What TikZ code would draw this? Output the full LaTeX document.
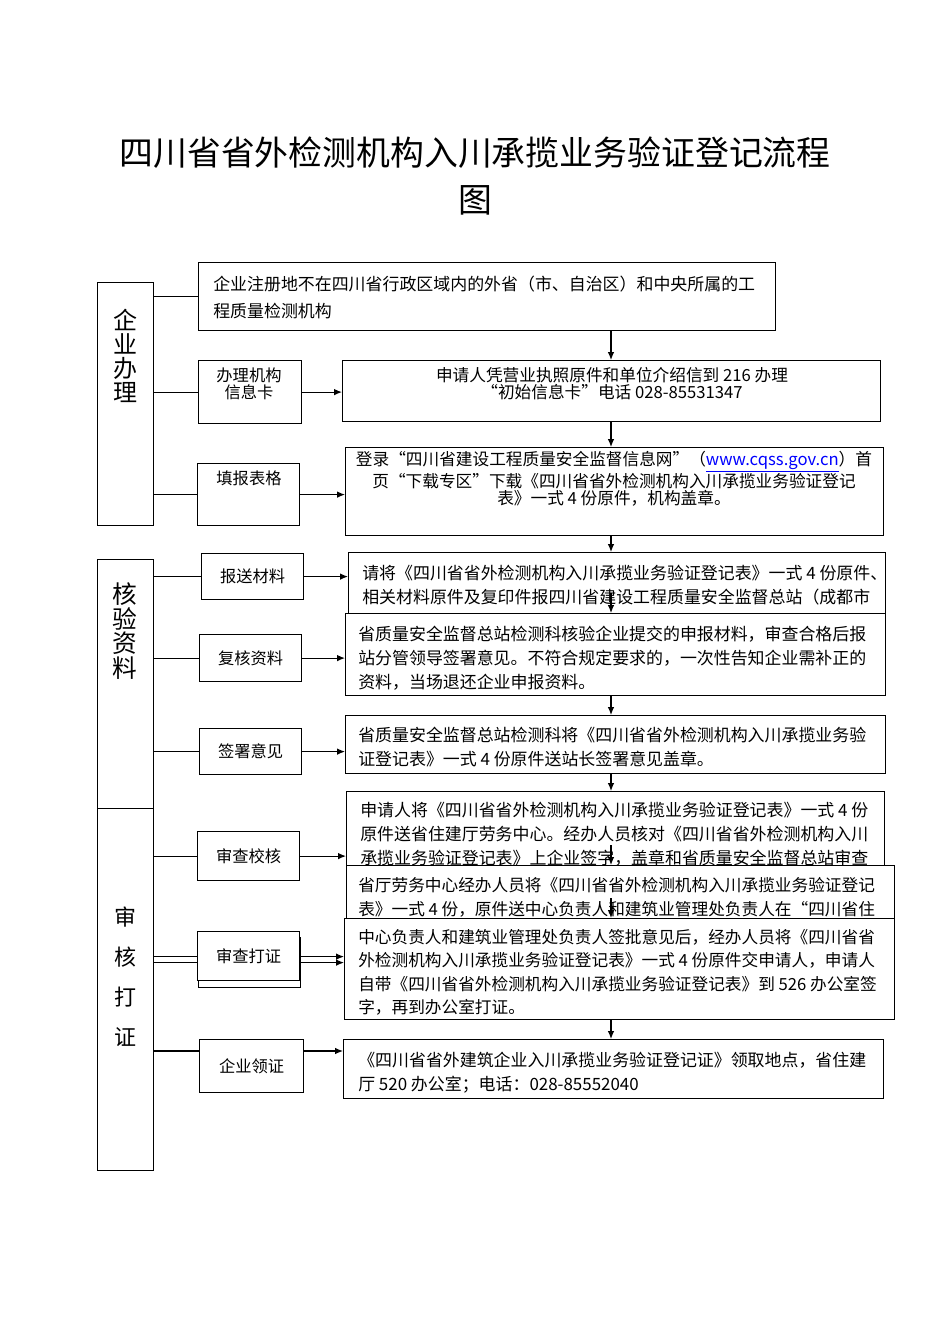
\documentclass[tikz,border=0pt]{standalone}
\usepackage{fontspec}
\setmainfont{Noto Sans CJK SC}
\usetikzlibrary{arrows.meta,calc}

\tikzset{
  lane/.style={draw, line width=0.9pt, anchor=north west, inner sep=0pt, minimum width=42pt},
  stepbox/.style={draw, fill=white, line width=0.9pt, anchor=north west, inner sep=0pt},
  tagbox/.style={draw, fill=white, line width=0.9pt, anchor=north west, inner sep=0pt, minimum width=76.5pt, font=\fontsize{12.2}{13}\selectfont},
  body/.style={anchor=north west, align=left, inner sep=0pt, font=\fontsize{12.7}{18}\selectfont},
  link/.style={line width=0.9pt},
  flow/.style={line width=0.9pt, -{Latex[length=6pt,width=5pt]}},
}

\begin{document}
\begin{tikzpicture}[x=0.75pt, y=-0.75pt]

      \fill[white] (0,0) rectangle (950,1344);
      \useasboundingbox (0,0) rectangle (950,1344);

      \node[align=center, inner sep=0pt, font=\fontsize{25.4}{35}\selectfont] (title) at (475,176) {四川省省外检测机构入川承揽业务验证登记流程\\图};

      % lanes
      \node[lane, minimum height=182.25pt] at (97,282) (col1) {};
      \node[lane, minimum height=186.75pt] at (97,559) (col2) {};
      \node[lane, minimum height=271.5pt] at (97,808) (col3) {};

      \node[align=center, inner sep=0pt, font=\fontsize{18}{18}\selectfont] (lab1) at (125,356) {企\\业\\办\\理};
      \node[align=center, inner sep=0pt, font=\fontsize{18.5}{18.4}\selectfont] (lab2) at (125,631) {核\\验\\资\\料};
      \node[align=center, inner sep=0pt, font=\fontsize{16.5}{30}\selectfont] (lab3) at (125,977) {审\\核\\打\\证};

      % left tags
      \node[tagbox, minimum width=77.25pt, minimum height=47.25pt] at (198,360) (m1) {};
      \node[align=center, inner sep=0pt, font=\fontsize{12.2}{12.5}\selectfont] (m1t) at (249,384) {办理机构\\信息卡};
      \node[tagbox, minimum height=46.5pt] at (197,463) (m2) {};
      \node[inner sep=0pt, font=\fontsize{12.2}{13}\selectfont] (m2t) at (249,478) {填报表格};
      \node[tagbox, minimum height=34.5pt] at (201,553) (m3) {报送材料};
      \node[tagbox, minimum height=35.25pt] at (199,634) (m4) {复核资料};
      \node[tagbox, minimum height=34.5pt] at (199,728) (m5) {签署意见};
      \node[tagbox, minimum height=36.75pt] at (197,831) (m6) {审查校核};
      \node[tagbox, minimum height=37.5pt] at (198,937) (m7s) {};
      \node[tagbox, minimum height=36.75pt] at (197,931) (m7) {审查打证};
      \node[tagbox, minimum width=78pt, minimum height=39.75pt] at (199,1039) (m8) {企业领证};

      % steps
      \node[stepbox, minimum width=432.75pt, minimum height=51pt] at (198,262) (s1) {};
      \node[body, font=\fontsize{12.7}{20.25}\selectfont] at (213,276) (t1) {企业注册地不在四川省行政区域内的外省（市、自治区）和中央所属的工\\程质量检测机构};

      \node[stepbox, minimum width=403.5pt, minimum height=45.75pt] at (342,360) (s2) {};
      \node[align=center, inner sep=0pt, font=\fontsize{12.5}{12.75}\selectfont] at (612,384) (t2) {申请人凭营业执照原件和单位介绍信到 216 办理\\“初始信息卡”电话 028-85531347};

      \node[stepbox, minimum width=403.5pt, minimum height=66pt] at (345,447) (s3) {};
      \node[align=center, inner sep=0pt, font=\fontsize{12.5}{12.75}\selectfont] at (614,479) (t3) {登录“四川省建设工程质量安全监督信息网”（\textcolor{blue}{\underline{www.cqss.gov.cn}}）首\\页“下载专区”下载《四川省省外检测机构入川承揽业务验证登记\\表》一式 4 份原件，机构盖章。};

      \node[stepbox, minimum width=402.75pt, minimum height=72pt] at (348,552) (s4) {};
      \node[body] at (362,565) (t4) {请将《四川省省外检测机构入川承揽业务验证登记表》一式 4 份原件、\\相关材料原件及复印件报四川省建设工程质量安全监督总站（成都市};

      \node[stepbox, minimum width=405pt, minimum height=61.5pt] at (345,613) (s5) {};
      \node[body] at (358,626) (t5) {省质量安全监督总站检测科核验企业提交的申报材料，审查合格后报\\站分管领导签署意见。不符合规定要求的，一次性告知企业需补正的\\资料，当场退还企业申报资料。};

      \node[stepbox, minimum width=405pt, minimum height=43.5pt] at (345,715) (s6) {};
      \node[body] at (358,727) (t6) {省质量安全监督总站检测科将《四川省省外检测机构入川承揽业务验\\证登记表》一式 4 份原件送站长签署意见盖章。};

      \node[stepbox, minimum width=403.5pt, minimum height=66.75pt] at (346,791) (s7) {};
      \node[body] at (360,802) (t7) {申请人将《四川省省外检测机构入川承揽业务验证登记表》一式 4 份\\原件送省住建厅劳务中心。经办人员核对《四川省省外检测机构入川\\承揽业务验证登记表》上企业签字，盖章和省质量安全监督总站审查};

      \node[stepbox, minimum width=411pt, minimum height=45pt] at (346,865) (s8) {};
      \node[body, font=\fontsize{12.5}{18}\selectfont] at (358,877) (t8) {省厅劳务中心经办人员将《四川省省外检测机构入川承揽业务验证登记\\表》一式 4 份，原件送中心负责人和建筑业管理处负责人在“四川省住};

      \node[stepbox, minimum width=412.5pt, minimum height=75.75pt] at (344,918) (s9) {};
      \node[body, font=\fontsize{12.5}{17.5}\selectfont] at (358,929) (t9) {中心负责人和建筑业管理处负责人签批意见后，经办人员将《四川省省\\外检测机构入川承揽业务验证登记表》一式 4 份原件交申请人，申请人\\自带《四川省省外检测机构入川承揽业务验证登记表》到 526 办公室签\\字，再到办公室打证。};

      \node[stepbox, minimum width=405pt, minimum height=44.25pt] at (343,1039) (s10) {};
      \node[body] at (358,1052) (t10) {《四川省省外建筑企业入川承揽业务验证登记证》领取地点，省住建\\厅 520 办公室；电话：028-85552040};

      % lane links
      \draw[link] (col1.east |- s1.west) -- (s1.west);
      \draw[link] (col1.east |- m1.west) -- (m1.west);
      \draw[link] (col1.east |- m2.west) -- (m2.west);
      \draw[link] (col2.east |- m3.west) -- (m3.west);
      \draw[link] (col2.east |- m4.west) -- (m4.west);
      \draw[link] (col2.east |- m5.west) -- (m5.west);
      \draw[link] (col3.east |- m6.west) -- (m6.west);

      \coordinate (d1) at ($(m7.west)+(0,0.5)$);
      \coordinate (d2) at ($(m7.west)+(0,6.5)$);
      \coordinate (e1) at ($(m8.north west)+(0,12)$);
      \draw[link] (col3.east |- d1) -- (d1);
      \draw[link] (col3.east |- d2) -- (d2);
      \draw[link] (col3.east |- e1) -- (e1);

      % tag to step
      \draw[flow] (m1.east) -- (m1.east -| s2.west);
      \draw[flow] (m2.east) -- (m2.east -| s3.west);
      \draw[flow] (m3.east) -- (m3.east -| s4.west);
      \draw[flow] (m4.east) -- (m4.east -| s5.west);
      \draw[flow] (m5.east) -- (m5.east -| s6.west);
      \draw[flow] (m6.east) -- (m6.east -| s7.west);
      \draw[flow] (m7.east |- d1) -- (s9.west |- d1);
      \draw[flow] (m7.east |- d2) -- (s9.west |- d2);
      \draw[flow] (m8.east |- e1) -- (s10.west |- e1);

      % down the steps
      \coordinate (ax) at (611,0);
      \coordinate (a4) at ($(s5.north -| ax)+(0,-20)$);
      \coordinate (a7) at ($(s8.north -| ax)+(0,-20)$);
      \coordinate (a8) at ($(s9.north -| ax)+(0,-20)$);
      \draw[flow] (s1.south -| ax) -- (s2.north -| ax);
      \draw[flow] (s2.south -| ax) -- (s3.north -| ax);
      \draw[flow] (s3.south -| ax) -- (s4.north -| ax);
      \draw[flow] (a4) -- (s5.north -| ax);
      \draw[flow] (s5.south -| ax) -- (s6.north -| ax);
      \draw[flow] (s6.south -| ax) -- (s7.north -| ax);
      \draw[flow] (a7) -- (s8.north -| ax);
      \draw[flow] (a8) -- (s9.north -| ax);
      \draw[flow] (s9.south -| ax) -- (s10.north -| ax);

\end{tikzpicture}
\end{document}
